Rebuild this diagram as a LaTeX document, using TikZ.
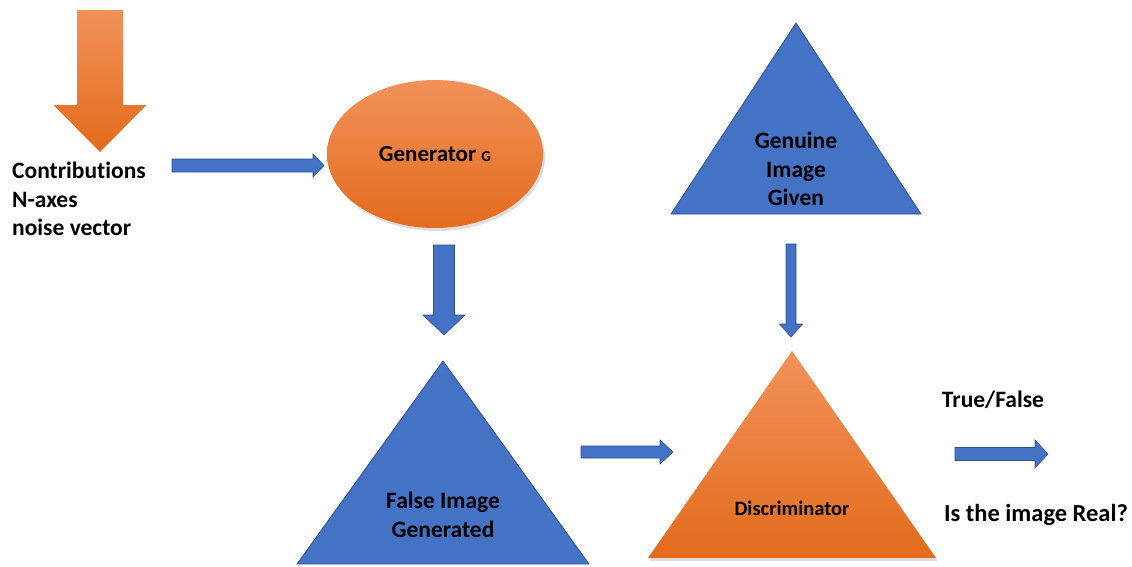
\documentclass[tikz,border=0pt]{standalone}
\usepackage{fontspec}
\setmainfont{Carlito}[Ligatures={NoCommon}]
\usetikzlibrary{calc,shapes.geometric,shadows}
\definecolor{gblue}{HTML}{4472C4}
\definecolor{gblueline}{HTML}{2F528F}
\definecolor{otop}{HTML}{F1925A}
\definecolor{omid}{HTML}{F07F33}
\definecolor{obot}{HTML}{E36B1C}
\tikzset{
  bluearrow/.style={fill=gblue, draw=gblueline, line width=0.6pt},
  orangearrow/.style={top color=otop, middle color=omid, bottom color=obot},
  bluetri/.style={fill=gblue, draw=gblueline, line width=0.8pt},
  orangeshape/.style={top color=otop, middle color=omid, bottom color=obot,
     drop shadow={opacity=0.25, shadow xshift=2pt, shadow yshift=-3pt}},
  lbl/.style={font=\bfseries\fontsize{23.5}{28.5}\selectfont, align=center, inner sep=0pt},
}
% horizontal block arrow: from, to, shaft half, head half, head length, style
\newcommand{\harrow}[6]{%
  \path[#6] ($(#1)+(0,-#3)$) -- ($(#2)+(-#5,-#3)$) -- ($(#2)+(-#5,-#4)$) -- (#2)
    -- ($(#2)+(-#5,#4)$) -- ($(#2)+(-#5,#3)$) -- ($(#1)+(0,#3)$) -- cycle;}
% vertical (downward) block arrow
\newcommand{\varrow}[6]{%
  \path[#6] ($(#1)+(-#3,0)$) -- ($(#2)+(-#3,-#5)$) -- ($(#2)+(-#4,-#5)$) -- (#2)
    -- ($(#2)+(#4,-#5)$) -- ($(#2)+(#3,-#5)$) -- ($(#1)+(#3,0)$) -- cycle;}
\begin{document}
\begin{tikzpicture}[x=1pt, y=-1pt]
\useasboundingbox[fill=white] (0,0) rectangle (1132,566);

% input orange arrow
\coordinate (inTop) at (100,10);
\coordinate (inTip) at (100,152);
\varrow{inTop}{inTip}{23}{46.5}{47}{orangearrow}

% input text
\node[lbl, align=left, anchor=west] (input) at (12,199)
  {Contributions\\N-axes\\noise vector};

% generator ellipse
\node[ellipse, orangeshape, minimum width=216pt, minimum height=148pt, inner sep=0pt,
      font=\bfseries\fontsize{23}{26}\selectfont] (gen) at (435,154)
  {Generator {\fontsize{15}{15}\selectfont G}};

% arrow input -> generator
\coordinate (a1s) at (172,165.5);
\coordinate (a1e) at (324,165.5);
\harrow{a1s}{a1e}{6.5}{11.5}{11}{bluearrow}

% arrow generator -> false image
\coordinate (a2s) at (444,245);
\coordinate (a2e) at (444,335);
\varrow{a2s}{a2e}{10.5}{21}{20}{bluearrow}

% false image triangle
\coordinate (fA) at (443,361);
\coordinate (fL) at (297,564);
\coordinate (fR) at (589,564);
\path[bluetri] (fA) -- (fR) -- (fL) -- cycle;
\node[lbl] (false) at (443,515) {False Image\\Generated};

% arrow false -> discriminator
\coordinate (a3s) at (581,452);
\coordinate (a3e) at (673,452);
\harrow{a3s}{a3e}{6}{12}{13}{bluearrow}

% genuine image triangle
\coordinate (gA) at (796,23);
\coordinate (gL) at (671,214);
\coordinate (gR) at (921,214);
\path[bluetri] (gA) -- (gR) -- (gL) -- cycle;
\node[lbl] (genuine) at (796,169) {Genuine\\Image\\Given};

% arrow genuine -> discriminator
\coordinate (a4s) at (791,244);
\coordinate (a4e) at (791,337);
\varrow{a4s}{a4e}{5}{11.5}{13}{bluearrow}

% discriminator triangle
\coordinate (dA) at (792,351);
\coordinate (dL) at (648,558);
\coordinate (dR) at (936,558);
\path[orangeshape] (dA) -- (dR) -- (dL) -- cycle;
\node[lbl, font=\bfseries\fontsize{20.5}{24}\selectfont] (disc) at (792,508) {Discriminator};

% output arrow
\coordinate (a5s) at (955,454);
\coordinate (a5e) at (1048,454);
\harrow{a5s}{a5e}{6.5}{14}{13}{bluearrow}

\node[lbl] (tf) at (993,400) {True/False};
\node[lbl, font=\bfseries\fontsize{24.5}{28.5}\selectfont] (real) at (1036,515) {Is the image Real?};
\end{tikzpicture}
\end{document}
